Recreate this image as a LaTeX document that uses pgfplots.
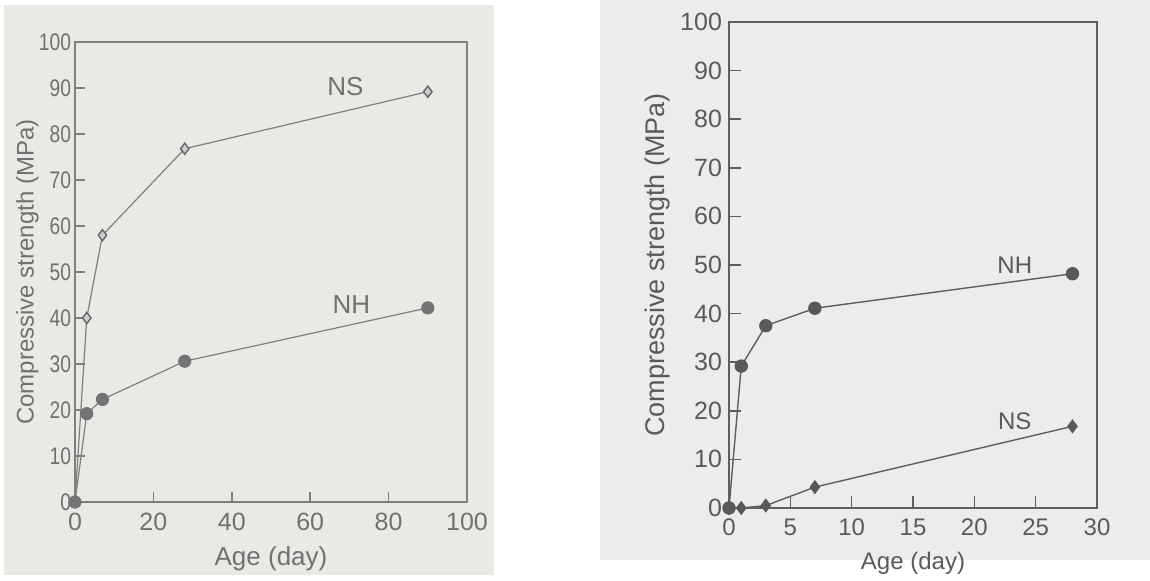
\documentclass[border=0pt]{standalone}
\usepackage{pgfplots}
\pgfplotsset{compat=1.18}
\usepackage{fontspec}
\setmainfont{Liberation Sans}
\definecolor{bgL}{HTML}{E9E9E6}
\definecolor{bgR}{HTML}{ECECEA}
\definecolor{lineL}{HTML}{7E7E7E}
\definecolor{lineR}{HTML}{5E5E5E}
\definecolor{txtL}{HTML}{707070}
\definecolor{txtR}{HTML}{5A5A5A}
\begin{document}
\begin{tikzpicture}
\path[use as bounding box] (0pt,0pt) rectangle (575pt,290.5pt);
\fill[white] (0pt,0pt) rectangle (575pt,290.5pt);
\fill[bgL] (2pt,3pt) rectangle (247pt,288pt);
\fill[bgR] (300pt,10.5pt) rectangle (575pt,290.5pt);
\begin{axis}[
  at={(37.5pt,39.5pt)}, anchor=south west,
  width=196pt, height=230pt, scale only axis,
  xmin=0, xmax=100, ymin=0, ymax=100,
  xtick={0,20,...,100}, ytick={0,10,...,100},
  xtick pos=left, ytick pos=left, tick align=inside,
  major tick length=5pt,
  axis line style={lineL, line width=0.8pt},
  tick style={lineL, line width=0.8pt},
  /pgf/number format/assume math mode=true,
  xticklabel style={font=\fontsize{12.5}{14}\selectfont, text=txtL, yshift=-2pt},
  yticklabel style={font=\fontsize{12}{13}\selectfont, text=txtL, xscale=0.8, xshift=1pt},
  xlabel={Age (day)}, ylabel={Compressive strength (MPa)},
  xlabel style={font=\fontsize{13}{15}\selectfont, text=txtL, yshift=-1pt},
  ylabel style={font=\fontsize{12}{14}\selectfont, text=txtL, yshift=-6pt},
  clip=false,
]
\addplot[lineL, line width=0.6pt, mark=diamond*, mark size=2.8pt,
  mark options={fill=white!80!black, draw=black!60, line width=0.7pt}]
  coordinates {(0,0) (3,40) (7,58) (28,76.8) (90,89.2)};
\addplot[lineL, line width=0.6pt, mark=*, mark size=3pt,
  mark options={fill=black!55, draw=black!55}]
  coordinates {(0,0) (3,19.2) (7,22.3) (28,30.6) (90,42.2)};
\node[font=\fontsize{13}{15}\selectfont, text=txtL] at (axis cs:69,90.4) {NS};
\node[font=\fontsize{13}{15}\selectfont, text=txtL] at (axis cs:70.5,43) {NH};
\end{axis}
\begin{axis}[
  at={(364.5pt,36.5pt)}, anchor=south west,
  width=184pt, height=243pt, scale only axis,
  xmin=0, xmax=30, ymin=0, ymax=100,
  xtick={0,5,...,30}, ytick={0,10,...,100},
  xtick pos=left, ytick pos=left, tick align=inside,
  major tick length=6pt,
  axis line style={lineR, line width=0.8pt},
  tick style={lineR, line width=0.8pt},
  /pgf/number format/assume math mode=true,
  xticklabel style={font=\fontsize{12}{14}\selectfont, text=txtR, yshift=-2pt},
  yticklabel style={font=\fontsize{12.5}{14}\selectfont, text=txtR},
  xlabel={Age (day)}, ylabel={Compressive strength (MPa)},
  xlabel style={font=\fontsize{12}{14}\selectfont, text=txtR, yshift=-1pt},
  ylabel style={font=\fontsize{13.5}{15}\selectfont, text=txtR, yshift=-2pt},
  clip=false,
]
\addplot[lineR, line width=0.7pt, mark=*, mark size=3pt,
  mark options={fill=black!65, draw=black!65}]
  coordinates {(0,0) (1,29.2) (3,37.5) (7,41.1) (28,48.2)};
\addplot[lineR, line width=0.7pt, mark=diamond*, mark size=3pt,
  mark options={fill=black!65, draw=black!65}]
  coordinates {(0,0) (1,0) (3,0.5) (7,4.3) (28,16.8)};
\node[font=\fontsize{12}{14}\selectfont, text=txtR] at (axis cs:23.3,50) {NH};
\node[font=\fontsize{12}{14}\selectfont, text=txtR] at (axis cs:23.3,17.8) {NS};
\end{axis}
\end{tikzpicture}
\end{document}
